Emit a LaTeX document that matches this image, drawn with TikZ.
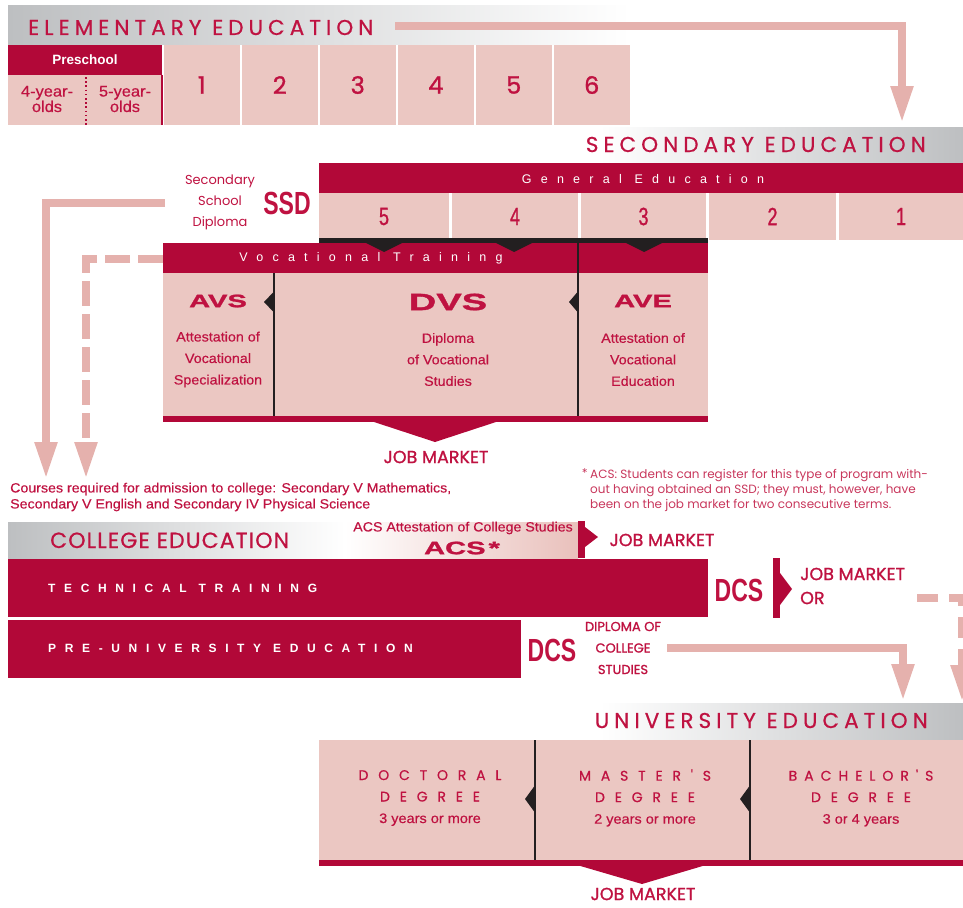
\documentclass[tikz,border=0pt]{standalone}
\usepackage{fontspec}
\usepackage{graphicx}
\usetikzlibrary{arrows.meta}
\setmainfont{Liberation Sans}
\newfontfamily\futl{Poppins}
\newfontfamily\fut[FakeBold=1.2]{Poppins}
\newfontfamily\futhead[LetterSpace=23.5,FakeBold=0.7]{Poppins}
\newfontfamily\futcoll[LetterSpace=5,FakeBold=0.7]{Poppins}
\newfontfamily\futuni[LetterSpace=70,FakeBold=0.6]{Poppins}
\newfontfamily\futunib[LetterSpace=50,FakeBold=0.6]{Poppins}
\newfontfamily\widesp[LetterSpace=74]{Liberation Sans}
\newfontfamily\widespb[LetterSpace=72]{Liberation Sans}
\newfontfamily\hel[FakeStretch=1.06,FakeBold=0.4]{Liberation Sans}
\newfontfamily\cond[FakeStretch=0.72,FakeBold=1]{Liberation Sans}
\newfontfamily\condb[FakeStretch=0.72]{Liberation Sans}
\newfontfamily\blk[FakeStretch=1.62,FakeBold=1.5]{Liberation Sans}
\newcommand\fsz[2]{\fontsize{#1}{#2}\selectfont}
\definecolor{redc}{HTML}{B20838}
\definecolor{txtc}{HTML}{BF1241}
\definecolor{notec}{HTML}{C8375C}
\definecolor{pinkc}{HTML}{EBC7C2}
\definecolor{arrc}{HTML}{E5B1AD}
\definecolor{darkc}{HTML}{231F20}
\definecolor{grayc}{HTML}{BDBFC1}
\begin{document}
\begin{tikzpicture}[x=1pt,y=-1pt,
  box/.style={fill=pinkc, draw=none, inner sep=0pt, outer sep=0pt, anchor=north west},
  rbox/.style={fill=redc, draw=none, inner sep=0pt, outer sep=0pt, anchor=north west},
  lbl/.style={text=txtc, inner sep=0pt, align=center},
  wlbl/.style={text=white, inner sep=0pt},
  parrow/.style={draw=arrc, line width=8pt, -{Triangle[length=37pt,width=21pt]}},
  pdash/.style={parrow, dash pattern=on 25pt off 8pt},
  darkline/.style={draw=darkc, line width=2.5pt},
  elnum/.style={box, minimum width=75.5pt, minimum height=80pt, text=txtc, font=\fut\fsz{24}{24}},
  secnum/.style={box, minimum height=47pt, text=txtc, font=\cond\fsz{25}{25}},
  head/.style={text=txtc, inner sep=0pt, font=\futhead\fsz{21.5}{24}},
  jm/.style={text=txtc, inner sep=0pt, font=\fut\fsz{17.5}{24}},
  desc/.style={lbl, font=\hel\fsz{13.5}{21.5}},
  blkt/.style={text=txtc, inner sep=0pt, font=\blk\bfseries\fsz{18}{18}},
  condt/.style={text=txtc, inner sep=0pt, font=\condb\bfseries\fsz{32}{32}},
  spaced/.style={wlbl, font=\widesp\fsz{12.5}{14}},
  unit/.style={lbl, font=\futuni\fsz{14}{21.5}},
]
\useasboundingbox (0,0) rectangle (963,907);

% ---------------- header bands
\shade[left color=grayc, right color=white] (8,6) rectangle (630,45);
\shade[left color=white, right color=grayc] (600,127) rectangle (963,163);
\shade[left color=grayc, right color=white] (8,522) rectangle (345,558);
\shade[left color=white, right color=pinkc!70!arrc] (345,522) rectangle (578,558);
\shade[left color=white, right color=grayc] (600,703) rectangle (963,740);

% ---------------- elementary
\node[head, anchor=base west] (elemh) at (28,35) {ELEMENTARY EDUCATION};
\node[rbox, minimum width=154pt, minimum height=30pt] (pre) at (8,45) {};
\node[wlbl, font=\bfseries\fsz{13.5}{16}] (pret) at (pre.center) {Preschool};
\node[box, minimum width=154pt, minimum height=50pt] (preb) at (8,75) {};
\draw[redc, line width=2pt] (162,75) -- (162,125);
\draw[redc, line width=1.6pt, dash pattern=on 1.6pt off 2.6pt] (86,77) -- (86,125);
\node[lbl, font=\hel\fsz{15.5}{13}] (p4) at (47,99) {4-year-\\olds};
\node[lbl, font=\hel\fsz{15.5}{13}] (p5) at (125,99) {5-year-\\olds};
\foreach \i/\xx in {1/164,2/242,3/320,4/398,5/476,6/554}
  \node[elnum] (e\i) at (\xx,45) {\i};

% ---------------- secondary
\node[head, anchor=base east] (sech) at (926,152) {SECONDARY EDUCATION};
\node[rbox, minimum width=644pt, minimum height=30pt] (ge) at (319,163) {};
\node[spaced] (get) at (643,179) {General Education};
\node[secnum, minimum width=130pt] (s5) at (319,193) {5};
\node[secnum, minimum width=126pt] (s4) at (452,193) {4};
\node[secnum, minimum width=125pt] (s3) at (581,193) {3};
\node[secnum, minimum width=127pt] (s2) at (709,193) {2};
\node[secnum, minimum width=124pt] (s1) at (839,193) {1};
\fill[darkc] (319,238) rectangle (708,243);
\node[lbl, font=\futl\fsz{13}{21}] (ssdt) at (220,202) {Secondary\\School\\Diploma};
\node[condt] (ssd) at (287,203) {SSD};

% ---------------- vocational
\node[rbox, minimum width=545pt, minimum height=30pt] (vth) at (163,243) {};
\node[box, minimum width=545pt, minimum height=143pt] (vtb) at (163,273) {};
\node[rbox, minimum width=545pt, minimum height=6pt] (vtf) at (163,416) {};
\foreach \c in {384,514,644} \fill[darkc] (\c-20,242) -- (\c,252) -- (\c+20,242) -- cycle;
\draw[darkline] (274,273) -- (274,416);
\draw[darkline] (578,240) -- (578,416);
\fill[darkc] (273.5,292) -- (264,302) -- (273.5,312) -- cycle;
\fill[darkc] (577.5,292) -- (569,302) -- (577.5,312) -- cycle;
\fill[redc] (371,421) -- (499,421) -- (435,442) -- cycle;
\node[spaced] (vtt) at (371,258) {Vocational Training};
\node[blkt] (avs) at (218,301) {AVS};
\node[blkt, font=\blk\bfseries\fsz{23.5}{23.5}] (dvs) at (448,302) {DVS};
\node[blkt] (ave) at (643,301) {AVE};
\node[desc] (avsd) at (218,359.5) {Attestation of\\Vocational\\Specialization};
\node[desc] (dvsd) at (448,359.5) {Diploma\\of Vocational\\Studies};
\node[desc] (aved) at (643,359.5) {Attestation of\\Vocational\\Education};
\node[jm] (jm1) at (436,457) {JOB MARKET};

% ---------------- notes
\node[text=txtc, inner sep=0pt, align=left, anchor=west, font=\hel\fsz{13.4}{16}] (courses) at (10,497)
  {Courses required for admission to college: Secondary V Mathematics,\\Secondary V English and Secondary IV Physical Science};
\node[text=notec, inner sep=0pt, anchor=north east, font=\futl\fsz{12}{15}] (star) at (588,468) {*};
\node[text=notec, inner sep=0pt, align=left, anchor=west, font=\futl\fsz{12}{15}] (note) at (590,490)
  {ACS: Students can register for this type of program with-\\out having obtained an SSD; they must, however, have\\been on the job market for two consecutive terms.};

% ---------------- college
\node[text=txtc, inner sep=0pt, anchor=base west, font=\futcoll\fsz{22}{24}] (collh) at (50,548) {COLLEGE EDUCATION};
\node[text=txtc, inner sep=0pt, font=\hel\fsz{13.4}{14}] (acst) at (463,528) {ACS Attestation of College Studies};
\node[blkt] (acs) at (462,548) {ACS\kern3pt*};
\fill[redc] (578,521) rectangle (585,558);
\fill[redc] (585,527) -- (598,537) -- (585,547) -- cycle;
\node[jm] (jm2) at (662,540) {JOB MARKET};
\node[rbox, minimum width=700pt, minimum height=58pt] (tech) at (8,559) {};
\node[wlbl, anchor=west, font=\widespb\bfseries\fsz{12}{14}] (techt) at (48,588) {TECHNICAL TRAINING};
\node[rbox, minimum width=513pt, minimum height=58pt] (preu) at (8,620) {};
\node[wlbl, anchor=west, font=\widespb\bfseries\fsz{12}{14}] (preut) at (48,648) {PRE-UNIVERSITY EDUCATION};
\node[condt] (dcs1) at (739,590) {DCS};
\fill[redc] (773,558) rectangle (780,618);
\fill[redc] (780,573) -- (792,589) -- (780,605) -- cycle;
\node[jm, align=left, anchor=west] (jm3) at (800,586) {JOB MARKET\\OR};
\node[condt] (dcs2) at (552,650) {DCS};
\node[lbl, font=\fut\fsz{13}{21.5}] (dcst) at (623,648) {DIPLOMA OF\\COLLEGE\\STUDIES};

% ---------------- university
\node[head, anchor=base east] (unih) at (928,728) {UNIVERSITY EDUCATION};
\node[box, minimum width=644pt, minimum height=120pt] (ub) at (319,740) {};
\node[rbox, minimum width=644pt, minimum height=6pt] (uf) at (319,860) {};
\draw[darkline] (535,740) -- (535,860);
\draw[darkline] (750,740) -- (750,860);
\fill[darkc] (534.5,786) -- (525,799) -- (534.5,812) -- cycle;
\fill[darkc] (749.5,786) -- (740,799) -- (749.5,812) -- cycle;
\fill[redc] (577,865) -- (706,865) -- (642,884) -- cycle;
\node[unit] (doc) at (430,798) {DOCTORAL\\DEGREE\\{\hel\fsz{13.7}{21.5}3 years or more}};
\node[unit] (mas) at (645,798) {MASTER'S\\DEGREE\\{\hel\fsz{13.7}{21.5}2 years or more}};
\node[unit, font=\futunib\fsz{14}{21.5}] (bac) at (861,798) {BACHELOR'S\\{\futuni DEGREE}\\{\hel\fsz{13.7}{21.5}3 or 4 years}};
\node[jm] (jm4) at (643,894) {JOB MARKET};

% ---------------- arrows
\coordinate (a1s) at (395,26);
\coordinate (a1e) at (902,123);
\draw[parrow] (a1s) -| (a1e);
\coordinate (a2s) at (165,202.5);
\coordinate (a2e) at (46,479);
\draw[parrow] (a2s) -| (a2e);
\coordinate (a3s) at (163,259);
\coordinate (a3e) at (86,479);
\draw[pdash] (a3s) -| (a3e);
\coordinate (a4s) at (667,648);
\coordinate (a4e) at (903,701);
\draw[parrow] (a4s) -| (a4e);
\coordinate (a5s) at (917,598);
\coordinate (a5e) at (962,702);
\draw[parrow, dash pattern=on 21pt off 11pt] (a5s) -| (a5e);
\end{tikzpicture}
\end{document}
